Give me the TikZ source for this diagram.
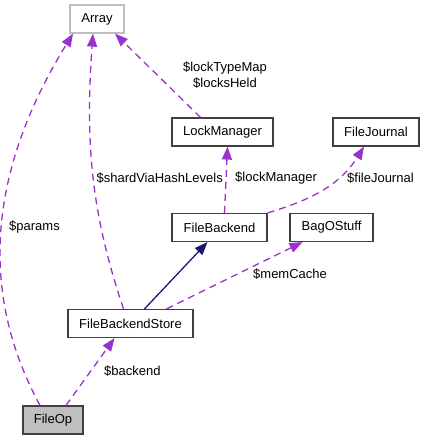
\documentclass[tikz,border=0pt]{standalone}
\usepackage{fontspec}
\setmainfont{Liberation Sans}
\usetikzlibrary{arrows.meta}
\definecolor{edgepurple}{RGB}{154,50,205}
\definecolor{inheritblue}{RGB}{25,25,112}
\definecolor{boxborder}{RGB}{64,64,64}
\definecolor{extgray}{RGB}{191,191,191}

\tikzset{
    classbox/.style={draw=boxborder, line width=1.2pt, fill=white, inner sep=0pt,
        minimum height=28pt, font=\fontsize{13}{15}\selectfont},
    usage/.style={edgepurple, line width=1.3pt, dash pattern=on 7pt off 5pt,
        -{Triangle[length=13pt,width=10pt]}},
    inherit/.style={inheritblue, line width=1.3pt, -{Triangle[length=13pt,width=10pt]}},
    edgelabel/.style={inner sep=0pt, font=\fontsize{13}{16}\selectfont}
}

\begin{document}
\begin{tikzpicture}[x=1pt, y=-1pt]
\useasboundingbox (0,0) rectangle (424,440);

% classes
\node[classbox, draw=extgray, minimum width=54pt] (array) at (97,19) {Array};
\node[classbox, minimum width=101pt] (lockmgr) at (222.5,132) {LockManager};
\node[classbox, minimum width=86pt] (journal) at (376,132) {FileJournal};
\node[classbox, minimum width=95pt] (backend) at (219.5,227.5) {FileBackend};
\node[classbox, minimum width=83pt] (bag) at (331.5,227.5) {BagOStuff};
\node[classbox, minimum width=125pt] (store) at (130.5,323.5) {FileBackendStore};
\node[classbox, fill=extgray, minimum width=60pt] (fileop) at (53,420) {FileOp};

% members
\draw[usage] ([xshift=-13pt]fileop.north) .. controls +(-65,-120) and +(-80,130) .. ([xshift=-24pt]array.south);
\draw[usage] ([xshift=-7pt]store.north) .. controls +(-32,-95) and +(-8,110) .. ([xshift=-4pt]array.south);
\draw[usage] ([xshift=-22pt]lockmgr.north) -- ([xshift=18pt]array.south);
\draw[usage] ([xshift=5pt]backend.north) -- ([xshift=5pt]lockmgr.south);
\draw[usage] (backend.north east) .. controls +(40,-12) and +(-25,40) .. ([xshift=-12pt]journal.south);
\draw[usage] ([xshift=36pt]store.north) -- ([xshift=-29pt]bag.south);
\draw[usage] ([xshift=13pt]fileop.north) -- ([xshift=-16pt]store.south);

% base class
\draw[inherit] ([xshift=14pt]store.north) -- ([xshift=-12pt]backend.south);

% labels
\node[edgelabel, anchor=west] (lparams) at (9,227) {\$params};
\node[edgelabel, anchor=east] (lshard) at (223,178) {\$shardViaHashLevels};
\node[edgelabel, align=center] (llocks) at (225,75) {\$lockTypeMap\\\$locksHeld};
\node[edgelabel, anchor=west] (llockmgr) at (235,178) {\$lockManager};
\node[edgelabel, anchor=west] (ljournal) at (347,178) {\$fileJournal};
\node[edgelabel, anchor=west] (lcache) at (253,274) {\$memCache};
\node[edgelabel, anchor=west] (lbackend) at (104,371) {\$backend};

\end{tikzpicture}
\end{document}
